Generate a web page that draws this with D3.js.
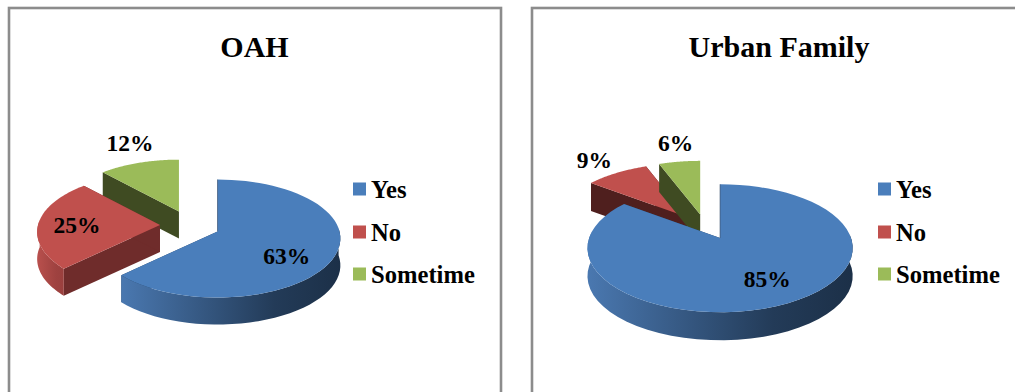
<!DOCTYPE html>
<html><head><meta charset="utf-8">
<script src="https://cdnjs.cloudflare.com/ajax/libs/d3/7.8.5/d3.min.js"></script>
<style>html,body{margin:0;padding:0;background:#fff;overflow:hidden}svg{display:block}text{font-family:"Liberation Serif",serif;font-weight:bold;fill:#000}</style>
</head><body><svg id="c" width="1015" height="392"></svg>
<script>
const categories = ["Yes","No","Sometime"];
const titles = ["OAH","Urban Family"];
const oahValues = [63,25,12];
const urbanValues = [85,9,6];
const topColors = ["#4a7ebb","#c0504d","#9bbb59"];
const cutColorsA = ["#24405f","#6f2c2b","#3f4b22"];
const cutColorsB = ["#24405f","#4f1f1e","#3f4b22"];
const wallStops = [["#4a78b0","#1c3048"],["#b9504d","#9a403e"],["#6b8240","#556833"]];

const panels = [
 {title:titles[0],values:oahValues,frame:[9,8,492,500],titleX:254.5,cx:190,cy:225.5,rx:122,ry:59,p:.12,ex:30,ey:15,d:27,cut:cutColorsA,
  legendX:353,nudge:[[-7,8],[-4,1],[-23,-37]],order:[2,1,0]},
 {title:titles[1],values:urbanValues,frame:[532,8,600,500],titleX:779,cx:706,cy:226.9,rx:131,ry:64,p:.16,ex:31,ey:12.5,d:28,cut:cutColorsB,
  legendX:878,nudge:[[3,-2],[-47,-29],[-11,-37]],order:[1,2,0]}
];
const legendRows = [189,232,274];

const svg = d3.select("#c");
const defs = svg.append("defs");
wallStops.forEach((s,i)=>{
  const g = defs.append("linearGradient").attr("id","wall"+i).attr("x1",0).attr("x2",1).attr("y1",0).attr("y2",0);
  g.append("stop").attr("offset","0%").attr("stop-color",s[0]);
  g.append("stop").attr("offset","70%").attr("stop-color",d3.interpolateRgb(s[0],s[1])(.85));
  g.append("stop").attr("offset","100%").attr("stop-color",s[1]);
});
const pie = d3.pie().sort(null);
const poly = d3.line();

panels.forEach(P=>{
  const g = svg.append("g");
  g.append("rect").attr("x",P.frame[0]).attr("y",P.frame[1]).attr("width",P.frame[2]).attr("height",P.frame[3])
    .attr("fill","#fff").attr("stroke","#8c8c8c").attr("stroke-width",2.6);
  g.append("text").attr("x",P.titleX).attr("y",57).attr("text-anchor","middle").attr("font-size",30).text(P.title);

  const arcs = pie(P.values);
  const proj = (a,f=1)=>{const s=1-P.p*Math.cos(a);return [Math.sin(a)*P.rx*s*f,-Math.cos(a)*P.ry*s*f];};
  const apex = d=>{const m=(d.startAngle+d.endAngle)/2;return [P.cx+P.ex*Math.sin(m),P.cy-P.ey*Math.cos(m)];};
  const pt = (c,a,dy=0)=>{const q=proj(a);return [c[0]+q[0],c[1]+q[1]+dy];};

  P.order.forEach(i=>{
    const d = arcs[i], c = apex(d);
    const angles = d3.range(0,61).map(k=>d.startAngle+(d.endAngle-d.startAngle)*k/60);
    [d.startAngle,d.endAngle].forEach(a=>{
      const e = pt(c,a);
      g.append("path").attr("d",poly([c,e,[e[0],e[1]+P.d],[c[0],c[1]+P.d]])+"Z").attr("fill",P.cut[i]);
    });
    const front = angles.filter(a=>Math.cos(a)<0.1);
    if(front.length>1){
      const upper = front.map(a=>pt(c,a));
      const lower = front.map(a=>pt(c,a,P.d)).reverse();
      g.append("path").attr("d",poly(upper.concat(lower))+"Z").attr("fill",`url(#wall${i})`);
    }
    g.append("path").attr("d",poly([c].concat(angles.map(a=>pt(c,a))))+"Z").attr("fill",topColors[i]);
    if(i===0){
      g.append("path").attr("d",poly([c,pt(c,d.startAngle)])).attr("stroke",P.cut[0]).attr("stroke-width",1).attr("opacity",.6).attr("fill","none");
    }
  });
  arcs.forEach((d,i)=>{
    const c = apex(d), m=(d.startAngle+d.endAngle)/2, q=proj(m,.65);
    g.append("text").attr("x",c[0]+q[0]+P.nudge[i][0]).attr("y",c[1]+q[1]+P.nudge[i][1]).attr("dy",".35em")
      .attr("text-anchor","middle").attr("font-size",23.5).text(d.data+"%");
  });
  categories.forEach((name,i)=>{
    g.append("rect").attr("x",P.legendX).attr("y",legendRows[i]-6.5).attr("width",13).attr("height",13).attr("fill",topColors[i]);
    g.append("text").attr("x",P.legendX+18).attr("y",legendRows[i]).attr("dy",".35em").attr("font-size",24.6).text(name);
  });
});
</script></body></html>
